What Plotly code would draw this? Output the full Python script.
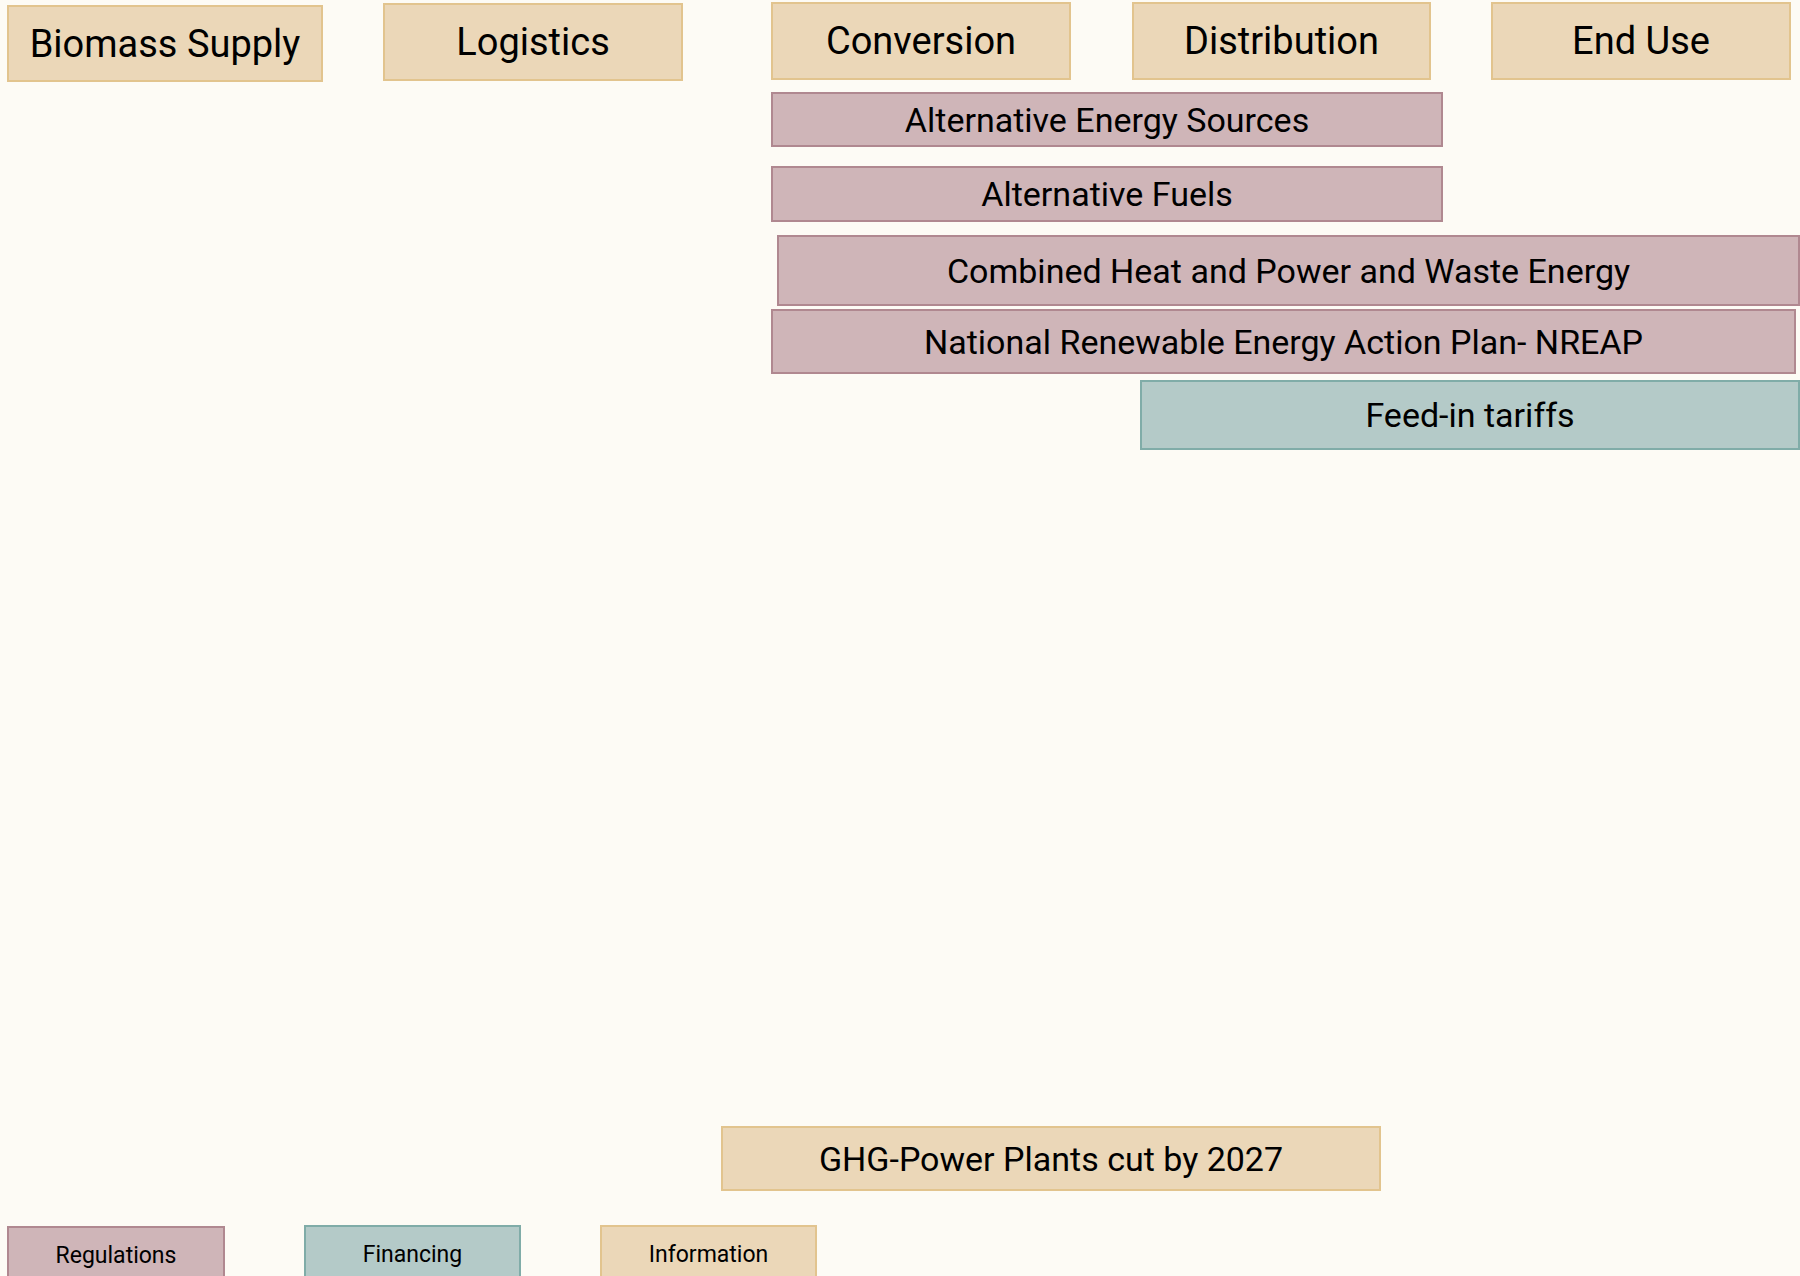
import plotly.graph_objects as go

# ---- data (axis units: x 0..1800 across the chain, y 0..1276 top-down) ----
stages = ["Biomass Supply", "Logistics", "Conversion", "Distribution", "End Use"]
stage_start = [8, 384, 772, 1133, 1492]
stage_end = [322, 682, 1070, 1430, 1790]
stage_top = [6, 4, 3, 3, 3]
stage_bottom = [81, 80, 79, 79, 79]

policies = ["Alternative Energy Sources", "Alternative Fuels",
            "Combined Heat and Power and Waste Energy",
            "National Renewable Energy Action Plan- NREAP",
            "Feed-in tariffs", "GHG-Power Plants cut by 2027"]
policy_type = ["Regulations", "Regulations", "Regulations", "Regulations",
               "Financing", "Information"]
policy_start = [772, 772, 778, 772, 1141, 722]
policy_end = [1442, 1442, 1799, 1795, 1799, 1380]
policy_top = [93, 167, 236, 310, 381, 1127]
policy_bottom = [146, 221, 305, 373, 449, 1190]

legend_items = ["Regulations", "Financing", "Information"]
legend_start = [8, 305, 601]
legend_end = [224, 520, 816]
legend_top = [1227, 1226, 1226]
legend_bottom = [1283, 1283, 1283]

fill = {"Regulations": "#cfb5b8", "Financing": "#b4cac8", "Information": "#ebd7b8"}
edge = {"Regulations": "#b08890", "Financing": "#80aca8", "Information": "#e2c48e"}

FONT = "Roboto, sans-serif"

fig = go.Figure()

def add_boxes(labels, kinds, x0, x1, y0, y1, size):
    fig.add_trace(go.Bar(
        orientation="h",
        y=[(a + b) / 2 for a, b in zip(y0, y1)],
        x=[b - a for a, b in zip(x0, x1)],
        base=x0,
        width=[b - a for a, b in zip(y0, y1)],
        text=labels,
        textposition="inside",
        insidetextanchor="middle",
        textangle=0,
        constraintext="none",
        textfont=dict(family=FONT, size=size, color="black"),
        marker=dict(color=[fill[k] for k in kinds],
                    line=dict(color=[edge[k] for k in kinds], width=2)),
        hoverinfo="skip",
        showlegend=False,
    ))

add_boxes(stages, ["Information"] * len(stages), stage_start, stage_end,
          stage_top, stage_bottom, 38)
add_boxes(policies, policy_type, policy_start, policy_end,
          policy_top, policy_bottom, 34)
add_boxes(legend_items, legend_items, legend_start, legend_end,
          legend_top, legend_bottom, 23)

fig.update_layout(
    width=1800, height=1276,
    margin=dict(l=0, r=0, t=0, b=0),
    paper_bgcolor="#fdfbf5", plot_bgcolor="#fdfbf5",
    barmode="overlay",
    xaxis=dict(range=[0, 1800], visible=False, fixedrange=True),
    yaxis=dict(range=[1276, 0], visible=False, fixedrange=True),
)

fig.write_html(
    "out.html",
    config={"displayModeBar": False},
    post_script="document.body.style.margin='0';"
                "document.body.style.background='#fdfbf5';",
)
